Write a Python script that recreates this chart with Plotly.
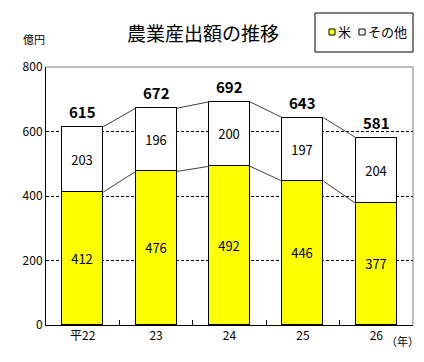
import plotly.graph_objects as go

years = ["平22", "23", "24", "25", "26"]
rice = [412, 476, 492, 446, 377]
other = [203, 196, 200, 197, 204]
totals = [615, 672, 692, 643, 581]

FONT = "Noto Sans CJK JP"
W = 0.56
xs = list(range(len(years)))
bounds = [i + 0.5 for i in xs[:-1]]

# page has 8px body margin; figure placed at (8,8)
OFF = 8
FW, FH = 424 - OFF, 362 - OFF
PL, PR, PT, PB = 46, 413, 67, 325  # plot area in page pixels
PW, PH = PR - PL, PB - PT


def px(x):
    return (x - PL) / PW


def py(y):
    return (PB - y) / PH


fig = go.Figure()
fig.add_trace(go.Bar(x=xs, y=rice, width=W, name="米",
                     marker=dict(color="#FFFF00", line=dict(color="black", width=1)),
                     text=[str(v) for v in rice], textposition="inside",
                     insidetextanchor="middle", textangle=0,
                     textfont=dict(family=FONT, size=13, color="black"),
                     showlegend=False))
fig.add_trace(go.Bar(x=xs, y=other, width=W, name="その他",
                     marker=dict(color="white", line=dict(color="black", width=1)),
                     text=[str(v) for v in other], textposition="inside",
                     insidetextanchor="middle", textangle=0,
                     textfont=dict(family=FONT, size=13, color="black"),
                     showlegend=False))

# connecting lines between bars
for i in range(len(years) - 1):
    for series in (rice, totals):
        fig.add_trace(go.Scatter(x=[xs[i] + W / 2, xs[i + 1] - W / 2],
                                 y=[series[i], series[i + 1]], mode="lines",
                                 line=dict(color="#404040", width=1),
                                 showlegend=False, hoverinfo="skip"))

# invisible trace on the overlay axis so it renders
fig.add_trace(go.Scatter(x=[bounds[0]], y=[0], xaxis="x2", mode="markers",
                         marker=dict(opacity=0), showlegend=False,
                         hoverinfo="skip"))

annotations = [
    dict(x=xs[i], y=totals[i], xref="x", yref="y", text=f"<b>{totals[i]}</b>",
         showarrow=False, xanchor="center", yanchor="bottom", yshift=3,
         font=dict(family=FONT, size=15, color="black"))
    for i in range(len(xs))
]
annotations += [
    dict(text="米", xref="paper", yref="paper", x=px(336), y=py(32),
         xanchor="left", yanchor="middle", showarrow=False,
         font=dict(family=FONT, size=13, color="black")),
    dict(text="その他", xref="paper", yref="paper", x=px(366), y=py(32),
         xanchor="left", yanchor="middle", showarrow=False,
         font=dict(family=FONT, size=13, color="black")),
    dict(text="億円", xref="paper", yref="paper", x=px(34), y=py(38.5),
         xanchor="center", yanchor="middle", showarrow=False,
         font=dict(family=FONT, size=11, color="black")),
    dict(text="（年）", xref="paper", yref="paper", x=px(402), y=py(341),
         xanchor="center", yanchor="middle", showarrow=False,
         font=dict(family=FONT, size=11, color="black")),
]

fig.update_layout(
    width=FW, height=FH,
    margin=dict(l=PL - OFF, r=FW - (PR - OFF), t=PT - OFF, b=FH - (PB - OFF)),
    paper_bgcolor="white", plot_bgcolor="white",
    barmode="stack", bargap=0,
    font=dict(family=FONT, size=12, color="black"),
    title=dict(text="農業産出額の推移", x=(203 - OFF) / FW, xanchor="center",
               y=1 - (34 - OFF) / FH, yanchor="middle",
               font=dict(family=FONT, size=19, color="black")),
    xaxis=dict(range=[-0.5, 4.5], tickvals=xs, ticktext=years,
               showline=True, linecolor="black", linewidth=1,
               showgrid=False, zeroline=False, ticks="",
               tickfont=dict(family=FONT, size=12, color="black")),
    xaxis2=dict(range=[-0.5, 4.5], overlaying="x", side="bottom", anchor="y",
                tickvals=bounds, showticklabels=False, ticks="inside",
                ticklen=5, tickcolor="black", tickwidth=1,
                showgrid=False, zeroline=False, showline=False),
    yaxis=dict(range=[0, 800], dtick=200, showline=True, linecolor="black",
               linewidth=1, showgrid=True, gridcolor="black", griddash="3px,2px",
               gridwidth=1, zeroline=False, ticks="",
               tickfont=dict(family=FONT, size=12, color="black")),
    shapes=[
        dict(type="line", xref="paper", yref="paper", x0=0, x1=1, y0=1, y1=1,
             line=dict(color="#808080", width=1)),
        dict(type="line", xref="paper", yref="paper", x0=1, x1=1, y0=0, y1=1,
             line=dict(color="#808080", width=1)),
        # legend box
        dict(type="rect", xref="paper", yref="paper",
             x0=px(315), x1=px(413), y0=py(52), y1=py(13),
             line=dict(color="black", width=1), fillcolor="white"),
        dict(type="rect", xref="paper", yref="paper",
             x0=px(329), x1=px(335), y0=py(35), y1=py(29),
             line=dict(color="black", width=1), fillcolor="#FFFF00"),
        dict(type="rect", xref="paper", yref="paper",
             x0=px(359), x1=px(365), y0=py(35), y1=py(29),
             line=dict(color="black", width=1), fillcolor="white"),
    ],
    annotations=annotations,
)

fig.write_html("out.html")
